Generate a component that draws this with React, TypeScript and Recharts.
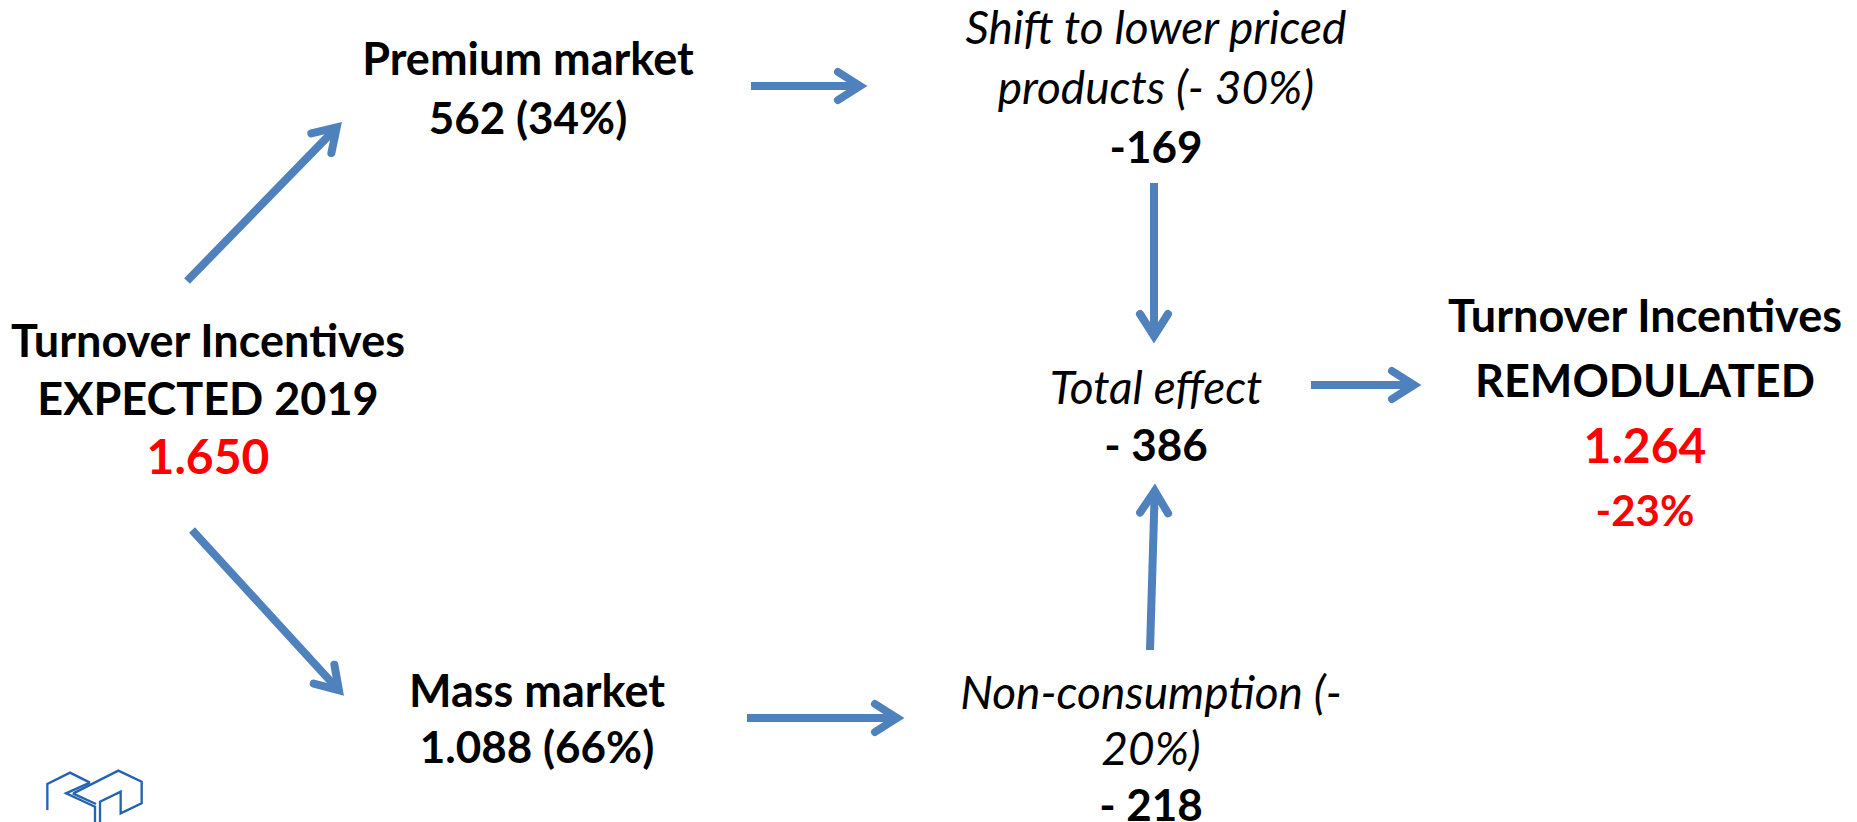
import React from "react";
import { ScatterChart, Scatter, XAxis, YAxis, ReferenceLine } from "recharts";

// diagram content
const nodeTitles: string[][] = [
  ["Turnover Incentives", "EXPECTED 2019"],
  ["Premium market"],
  ["Mass market"],
  ["Shift to lower priced", "products (- 30%)"],
  ["Non-consumption (-", "20%)"],
  ["Total effect"],
  ["Turnover Incentives", "REMODULATED"],
];
const nodeValues = ["1.650", "562 (34%)", "1.088 (66%)", "-169", "- 218", "- 386", "1.264"];
const nodeChanges = ["", "", "", "", "", "", "-23%"];
const titleItalic = [false, false, false, true, true, true, false];
const valueHighlight = [true, false, false, false, false, false, true];

// layout (diagram units = px)
const nodeX = [208, 528, 537, 1156, 1151, 1156, 1645];
const nodeY = [341, 59, 691, 27, 692, 387, 316];
const nodeGap = [58, 59, 56, 60, 56.5, 58, 65];

const arrowFrom = [
  [187, 281],
  [751, 86],
  [1154, 183],
  [1311, 385],
  [192, 530],
  [747, 718],
  [1150, 650],
];
const arrowTo = [
  [343, 121],
  [869, 86],
  [1154, 345],
  [1423, 385],
  [345, 697],
  [906, 718],
  [1155, 482],
];

const W = 1857;
const H = 822;
const FONT = "Lato, 'Open Sans', sans-serif";
const BLUE = "#4F81BD";
const RED = "#FF0000";
const TITLE = 45;
const ITALIC = 46;
const VALUE = 44;
const BIG = 48;
const CHANGE = 42;

const nodes = nodeTitles.map((title, i) => ({
  x: nodeX[i],
  y: nodeY[i],
  title,
  value: nodeValues[i],
  change: nodeChanges[i],
  italic: titleItalic[i],
  red: valueHighlight[i],
  gap: nodeGap[i],
}));

const NodeLabel = (props: any) => {
  const { cx, cy, payload } = props;
  const lines: { text: string; size: number; color: string; italic: boolean }[] = [];
  payload.title.forEach((t: string) =>
    lines.push({
      text: t,
      size: payload.italic ? ITALIC : TITLE,
      color: "#000",
      italic: payload.italic,
    })
  );
  lines.push({
    text: payload.value,
    size: payload.red ? BIG : VALUE,
    color: payload.red ? RED : "#000",
    italic: false,
  });
  if (payload.change) {
    lines.push({ text: payload.change, size: CHANGE, color: RED, italic: false });
  }
  return (
    <g>
      {lines.map((l, i) => (
        <text
          key={i}
          x={cx}
          y={cy + i * payload.gap + l.size * 0.36}
          textAnchor="middle"
          fontFamily={FONT}
          fontSize={l.size}
          fontWeight={l.italic ? 400 : 700}
          fontStyle={l.italic ? "italic" : "normal"}
          fill={l.color}
        >
          {l.text}
        </text>
      ))}
    </g>
  );
};

const Arrow = (props: any) => {
  const { x1, y1, x2, y2 } = props;
  const len = Math.hypot(x2 - x1, y2 - y1);
  const dx = (x2 - x1) / len;
  const dy = (y2 - y1) / len;
  const vx = x2 - dx * 9;
  const vy = y2 - dy * 9;
  const bx = vx - dx * 22;
  const by = vy - dy * 22;
  const px = -dy * 14;
  const py = dx * 14;
  return (
    <g>
      <line x1={x1} y1={y1} x2={vx - dx * 2} y2={vy - dy * 2} stroke={BLUE} strokeWidth={8} />
      <polyline
        points={`${bx + px},${by + py} ${vx},${vy} ${bx - px},${by - py}`}
        fill="none"
        stroke={BLUE}
        strokeWidth={8}
        strokeLinecap="round"
        strokeLinejoin="miter"
      />
    </g>
  );
};

const Logo = () => (
  <svg
    width={130}
    height={62}
    viewBox="0 0 390 186"
    style={{ position: "absolute", left: 30, top: 760 }}
  >
    <g fill="none" stroke="#2563B0" strokeWidth={7} strokeLinejoin="miter">
      <path d="M52,150 L52,72 L120,38 L180,68" />
      <path d="M180,68 L108,100 L195,140 L195,186" />
      <path d="M128,100 L198,132" />
      <path d="M130,100 L265,32 L335,65 L335,130 L272,160 L272,95 L210,125 L210,186" />
    </g>
  </svg>
);

export default function App() {
  return (
    <div style={{ position: "absolute", left: 0, top: 0, width: W, height: H, background: "#fff" }}>
      <ScatterChart width={W} height={H} margin={{ top: 0, right: 0, bottom: 0, left: 0 }}>
        <XAxis type="number" dataKey="x" domain={[0, W]} hide />
        <YAxis type="number" dataKey="y" domain={[0, H]} reversed hide />
        {arrowFrom.map((from, i) => (
          <ReferenceLine
            key={i}
            segment={[
              { x: from[0], y: from[1] },
              { x: arrowTo[i][0], y: arrowTo[i][1] },
            ]}
            shape={Arrow}
          />
        ))}
        <Scatter data={nodes} shape={NodeLabel} isAnimationActive={false} />
      </ScatterChart>
      <Logo />
    </div>
  );
}
